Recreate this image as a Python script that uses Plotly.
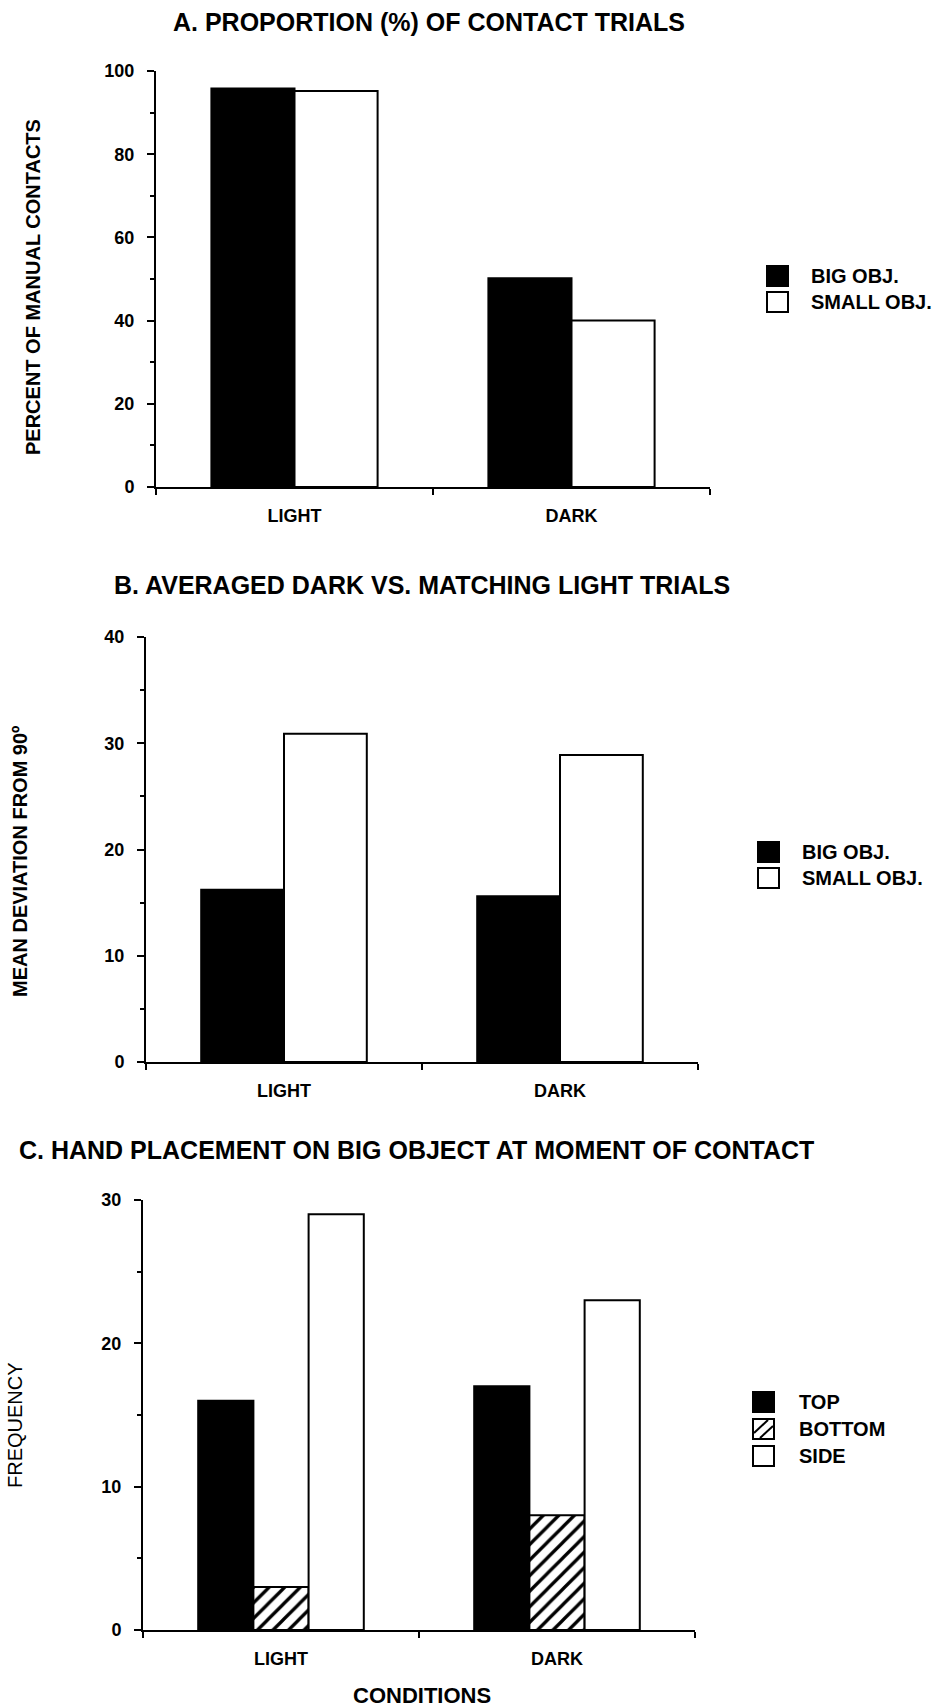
import plotly.graph_objects as go

# ---------------- data ----------------
categories = ["LIGHT", "DARK"]

a_big = [95.8, 50.2]
a_small = [95.2, 40.0]

b_big = [16.2, 15.6]
b_small = [30.9, 28.9]

c_top = [16, 17]
c_bottom = [3, 8]
c_side = [29, 23]

title_a = "A. PROPORTION (%) OF CONTACT TRIALS"
title_b = "B. AVERAGED DARK VS. MATCHING LIGHT TRIALS"
title_c = "C. HAND PLACEMENT ON BIG OBJECT AT MOMENT OF CONTACT"
ylabel_a = "PERCENT OF MANUAL CONTACTS"
ylabel_b = "MEAN DEVIATION FROM 90º"
ylabel_c = "FREQUENCY"
xlabel_c = "CONDITIONS"
legend_ab = ["BIG OBJ.", "SMALL OBJ."]
legend_c = ["TOP", "BOTTOM", "SIDE"]

# ---------------- layout helpers ----------------
W, H = 940, 1707
FONT = "Liberation Sans, Arial, Helvetica, sans-serif"


def px(x):
    return x / W


def py(y):
    return 1 - y / H


fig = go.Figure()

line_style = dict(color="black", width=2)

# Panel A
fig.add_trace(go.Bar(x=categories, y=a_big, name=legend_ab[0], marker=dict(color="black", line=line_style),
                     xaxis="x", yaxis="y", showlegend=False))
fig.add_trace(go.Bar(x=categories, y=a_small, name=legend_ab[1], marker=dict(color="white", line=line_style),
                     xaxis="x", yaxis="y", showlegend=False))
# Panel B
fig.add_trace(go.Bar(x=categories, y=b_big, name=legend_ab[0], marker=dict(color="black", line=line_style),
                     xaxis="x2", yaxis="y2", showlegend=False))
fig.add_trace(go.Bar(x=categories, y=b_small, name=legend_ab[1], marker=dict(color="white", line=line_style),
                     xaxis="x2", yaxis="y2", showlegend=False))
# Panel C
fig.add_trace(go.Bar(x=categories, y=c_top, name=legend_c[0], marker=dict(color="black", line=line_style),
                     xaxis="x3", yaxis="y3", showlegend=False))
fig.add_trace(go.Bar(x=categories, y=c_bottom, name=legend_c[1],
                     marker=dict(color="white", line=line_style,
                                 pattern=dict(shape="/", fgcolor="black", bgcolor="white", size=11, solidity=0.3)),
                     xaxis="x3", yaxis="y3", showlegend=False))
fig.add_trace(go.Bar(x=categories, y=c_side, name=legend_c[2], marker=dict(color="white", line=line_style),
                     xaxis="x3", yaxis="y3", showlegend=False))

tickfont = dict(family=FONT, size=18, color="black", weight=700)


def xaxis(dom, anchor):
    return dict(domain=[px(dom[0]), px(dom[1])], anchor=anchor, type="category", automargin=False,
                range=[-0.5, 1.5], showline=True, linecolor="black", linewidth=2,
                ticks="outside", tickson="boundaries", ticklen=6, tickwidth=2, tickcolor="black",
                showgrid=False, zeroline=False, tickfont=tickfont, ticklabelstandoff=11)


def yaxis(dom, anchor, rng, dtick, mdtick):
    return dict(domain=[py(dom[1]), py(dom[0])], anchor=anchor, range=rng, automargin=False,
                showline=True, linecolor="black", linewidth=2,
                ticks="outside", ticklen=7, tickwidth=2, tickcolor="black", dtick=dtick, tick0=0,
                minor=dict(ticks="outside", ticklen=4, tickwidth=1.5, tickcolor="black", dtick=mdtick, tick0=0),
                showgrid=False, zeroline=False, tickfont=tickfont, ticklabelstandoff=9)


A_x, A_y = (156, 710), (71, 487)
B_x, B_y = (146, 698), (637, 1062)
C_x, C_y = (143, 695), (1200, 1630)

fig.update_layout(
    template="none",
    width=W, height=H,
    margin=dict(l=0, r=0, t=0, b=0, pad=0),
    paper_bgcolor="white", plot_bgcolor="white",
    barmode="group", bargap=0.4, bargroupgap=0,
    xaxis=xaxis(A_x, "y"), yaxis=yaxis(A_y, "x", [0, 100], 20, 10),
    xaxis2=xaxis(B_x, "y2"), yaxis2=yaxis(B_y, "x2", [0, 40], 10, 5),
    xaxis3=xaxis(C_x, "y3"), yaxis3=yaxis(C_y, "x3", [0, 30], 10, 5),
    showlegend=False,
    font=dict(family=FONT, color="black"),
)

ann = []


def text(s, x, y, size, bold=True, angle=0, xanchor="center"):
    ann.append(dict(text=s, x=px(x), y=py(y), xref="paper", yref="paper", showarrow=False,
                    xanchor=xanchor, yanchor="middle", textangle=angle,
                    font=dict(family=FONT, size=size, color="black", weight=700 if bold else 400)))


# titles
text(title_a, 429, 22, 25)
text(title_b, 422, 585, 25)
text(title_c, 416, 1150, 25)
# y labels
text(ylabel_a, 33, 287, 20, angle=-90)
text(ylabel_b, 20, 862, 20, angle=-90)
text(ylabel_c, 15, 1425, 20, bold=False, angle=-90)
# x label
text(xlabel_c, 422, 1695, 22)

shapes = []


def legend_box(x0, y0, fill, hatch=False):
    x1, y1 = x0 + 21, y0 + 20
    shapes.append(dict(type="rect", xref="paper", yref="paper", x0=px(x0), x1=px(x1), y0=py(y1), y1=py(y0),
                       fillcolor=fill, line=dict(color="black", width=2)))
    if hatch:
        shapes.append(dict(type="line", xref="paper", yref="paper", x0=px(x0 + 1), y0=py(y1 - 6),
                           x1=px(x1 - 6), y1=py(y0 + 1), line=dict(color="black", width=2)))
        shapes.append(dict(type="line", xref="paper", yref="paper", x0=px(x0 + 7), y0=py(y1 - 1),
                           x1=px(x1 - 1), y1=py(y0 + 7), line=dict(color="black", width=2)))


# legend A
legend_box(767, 266, "black")
legend_box(767, 292, "white")
text(legend_ab[0], 809, 276, 20, xanchor="left")
text(legend_ab[1], 809, 302, 20, xanchor="left")
# legend B
legend_box(758, 842, "black")
legend_box(758, 868, "white")
text(legend_ab[0], 800, 852, 20, xanchor="left")
text(legend_ab[1], 800, 878, 20, xanchor="left")
# legend C
legend_box(753, 1392, "black")
legend_box(753, 1419, "white", hatch=True)
legend_box(753, 1446, "white")
text(legend_c[0], 797, 1402, 20, xanchor="left")
text(legend_c[1], 797, 1429, 20, xanchor="left")
text(legend_c[2], 797, 1456, 20, xanchor="left")

fig.update_layout(annotations=ann, shapes=shapes)

fig.write_html("out.html", config={"displayModeBar": False},
               post_script="document.body.style.margin='0px';document.body.style.overflow='hidden';")
